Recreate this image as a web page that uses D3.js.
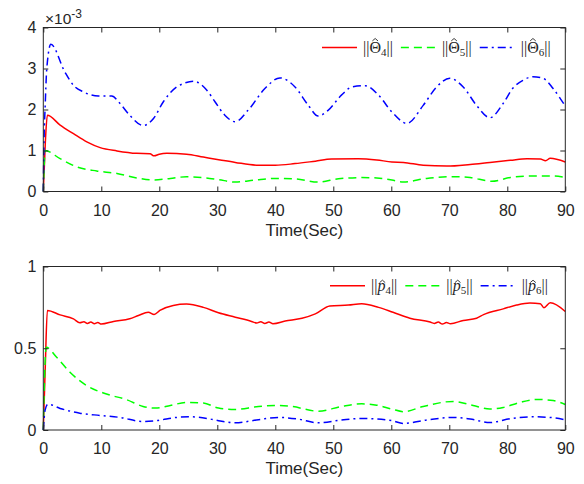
<!DOCTYPE html>
<html>
<head>
<meta charset="utf-8">
<script src="https://cdnjs.cloudflare.com/ajax/libs/d3/7.8.5/d3.min.js"></script>
<style>
    body { margin: 0; background: #fff; }
    svg { display: block; }
    .axis text { font-family: Arial, "Liberation Sans", sans-serif; font-size: 16px; fill: #262626; }
    .axis path, .axis line { stroke: #262626; }
    .xlabel { font-family: Arial, "Liberation Sans", sans-serif; font-size: 17px; fill: #262626; }
    .legend text { font-family: "Liberation Serif", "DejaVu Serif", serif; font-size: 16px; fill: #262626; }
</style>
</head>
<body>
<svg id="chart" width="584" height="484"></svg>
<script>
// [time, value] pairs; upper panel in units of 1e-3
var theta4 = [[0,0],[0.35,1.2],[0.7,1.86],[2.9,1.62],[5.2,1.41],[7.5,1.21],[9.8,1.07],[12.7,0.99],[16.1,0.93],
    [18.4,0.92],[19.1,0.87],[20,0.91],[21.3,0.93],[24.7,0.91],[27.6,0.84],[30.5,0.77],[33.1,0.71],[37.1,0.64],
    [40,0.64],[43.4,0.68],[46.9,0.74],[49.7,0.79],[54.3,0.80],[57.5,0.77],[60.1,0.72],[62.1,0.71],[65.5,0.64],
    [69.6,0.62],[73.6,0.66],[77,0.71],[80.5,0.76],[83.4,0.80],[85.7,0.79],[86.6,0.75],[87.4,0.81],[90,0.72]];
var theta5 = [[0,0],[0.15,0.6],[0.3,1.0],[2.9,0.80],[5.8,0.60],[9.2,0.50],[12.7,0.44],[16.1,0.33],[19,0.28],
    [21.9,0.32],[24.7,0.36],[27.6,0.34],[30.2,0.29],[33.1,0.23],[36.5,0.28],[40,0.32],[43.4,0.31],[47.4,0.23],
    [50.9,0.31],[54.9,0.34],[57.5,0.33],[60.1,0.28],[62.1,0.23],[66.1,0.32],[70.7,0.36],[73.6,0.34],[77.3,0.25],
    [80.5,0.34],[84.4,0.38],[87.9,0.38],[90,0.34]];
var theta6 = [[0,0],[0.15,1.4],[0.3,2.0],[0.6,3.0],[1.3,3.59],[3.7,2.92],[5.2,2.59],[6.9,2.43],[9.5,2.33],
    [11.8,2.33],[13.2,2.15],[14.9,1.86],[17.2,1.61],[19,1.78],[20.7,2.19],[23,2.55],[24.1,2.63],[25.9,2.69],
    [28.2,2.47],[29.6,2.19],[31.3,1.86],[33.1,1.70],[35.3,1.98],[38.2,2.51],[40.8,2.77],[43.4,2.55],[45.7,2.10],
    [47.4,1.84],[49.1,1.98],[51.4,2.35],[53.2,2.55],[55.5,2.58],[57.8,2.35],[60.1,1.94],[62.7,1.66],[65.5,2.10],
    [67.8,2.55],[70.1,2.76],[72.4,2.55],[74.7,2.10],[77,1.80],[79.3,2.15],[80.9,2.51],[82.7,2.71],[84.4,2.80],
    [86.2,2.76],[87.9,2.51],[90,2.08]];

var p4 = [[0,0],[0.35,0.4],[0.7,0.731],[2.9,0.704],[5.2,0.68],[6.3,0.656],[7,0.662],[7.6,0.652],[8.2,0.66],
    [8.8,0.65],[9.4,0.657],[10,0.648],[12.1,0.664],[14.9,0.68],[16.4,0.70],[18.1,0.72],[19.1,0.706],[20.1,0.731],
    [22.4,0.762],[24.7,0.77],[27.6,0.75],[30.2,0.717],[33.1,0.69],[35.9,0.664],[36.8,0.654],[37.5,0.662],
    [38.2,0.652],[38.9,0.66],[39.6,0.65],[41.7,0.666],[44.6,0.683],[46.9,0.71],[49.4,0.758],[52.6,0.764],
    [54.9,0.772],[57.8,0.75],[60.3,0.72],[63.2,0.684],[66.7,0.66],[67.4,0.652],[68.1,0.66],[68.8,0.648],
    [69.5,0.657],[70.2,0.65],[72.4,0.67],[74.7,0.684],[75.9,0.706],[79.3,0.741],[81.6,0.764],[83.9,0.776],
    [85.7,0.772],[86.3,0.748],[87.4,0.778],[90,0.725]];
var p5 = [[0,0],[0.2,0.3],[0.5,0.506],[2.3,0.445],[4.6,0.353],[7.5,0.271],[10.9,0.22],[14.4,0.185],[17.2,0.144],
    [19.3,0.134],[21.9,0.15],[24.7,0.169],[27.6,0.165],[30.2,0.134],[33,0.125],[37.1,0.144],[40,0.15],[42.8,0.144],
    [47.4,0.115],[51.4,0.144],[54.9,0.16],[57.5,0.152],[60.1,0.128],[62.1,0.112],[65.5,0.144],[70.7,0.175],
    [74.1,0.15],[77,0.128],[79.3,0.138],[82.2,0.169],[85.1,0.187],[87.9,0.18],[90,0.156]];
var p6 = [[0,0],[0.3,0.12],[0.8,0.158],[2.9,0.132],[6.3,0.103],[9.8,0.089],[13.2,0.077],[17.2,0.052],[19.6,0.058],
    [23,0.077],[25.3,0.081],[28.8,0.067],[30.5,0.055],[33.1,0.044],[37.1,0.063],[40.5,0.077],[43.9,0.067],
    [47.4,0.044],[51.4,0.061],[54.9,0.071],[60.1,0.057],[62.1,0.04],[66.1,0.061],[70.7,0.077],[73.6,0.067],
    [77,0.046],[80.5,0.069],[84.4,0.081],[87.9,0.075],[90,0.061]];

var xTicks = [0, 10, 20, 30, 40, 50, 60, 70, 80, 90];
var yTicksTop = [0, 1, 2, 3, 4];
var yTicksBottom = [0, 0.5, 1];
var legendSubs = ["4", "5", "6"];
var xLabel = "Time(Sec)";

var left = 43.3, right = 565.3;
var colors = ["#ff0000", "#00ff00", "#0000ff"];
var dashes = [null, "8,5", "8,4,2,4"];

var svg = d3.select("#chart");

var drawPanel = function(cfg) {
    var x = d3.scaleLinear().domain([0, 90]).range([left, right]);
    var y = d3.scaleLinear().domain(cfg.yDomain).range([cfg.bottom, cfg.top]);
    var g = svg.append("g");

    var line = d3.line()
        .x(function(d) { return x(d[0]); })
        .y(function(d) { return y(d[1]); })
        .curve(d3.curveMonotoneX);

    cfg.series.forEach(function(s, i) {
        g.append("path")
            .datum(s)
            .attr("d", line)
            .attr("fill", "none")
            .attr("stroke", colors[i])
            .attr("stroke-width", 1.5)
            .attr("stroke-dasharray", dashes[i]);
    });

    // axes, ticks pointing inward on all four sides
    g.append("g").attr("class", "axis")
        .attr("transform", "translate(0," + cfg.bottom + ")")
        .call(d3.axisBottom(x).tickValues(xTicks).tickSize(-5).tickPadding(13).tickSizeOuter(0));
    g.append("g").attr("class", "axis")
        .attr("transform", "translate(0," + cfg.top + ")")
        .call(d3.axisTop(x).tickValues(xTicks).tickSize(-5).tickFormat("").tickSizeOuter(0));
    g.append("g").attr("class", "axis")
        .attr("transform", "translate(" + left + ",0)")
        .call(d3.axisLeft(y).tickValues(cfg.yTicks).tickSize(-5).tickPadding(7).tickSizeOuter(0)
            .tickFormat(d3.format("")));
    g.append("g").attr("class", "axis")
        .attr("transform", "translate(" + right + ",0)")
        .call(d3.axisRight(y).tickValues(cfg.yTicks).tickSize(-5).tickFormat("").tickSizeOuter(0));
    g.selectAll(".axis .domain").remove();
    g.append("rect")
        .attr("x", left).attr("y", cfg.top)
        .attr("width", right - left).attr("height", cfg.bottom - cfg.top)
        .attr("fill", "none").attr("stroke", "#262626").attr("stroke-width", 1);

    g.append("text").attr("class", "xlabel")
        .attr("x", (left + right) / 2).attr("y", cfg.bottom + 44)
        .attr("text-anchor", "middle")
        .text(xLabel);

    // legend, no box
    var leg = g.append("g").attr("class", "legend");
    var items = legendSubs.map(function(sub, i) {
        var it = leg.append("g");
        it.append("line")
            .attr("x1", 0).attr("x2", 35).attr("y1", 0).attr("y2", 0)
            .attr("stroke", colors[i]).attr("stroke-width", 1.5)
            .attr("stroke-dasharray", dashes[i]);
        var t = it.append("text").attr("x", 41).attr("y", 5.5);
        t.append("tspan").text("||");
        t.append("tspan").attr("font-style", cfg.symItalic ? "italic" : "normal").text(cfg.sym);
        t.append("tspan").attr("font-size", "11px").attr("dy", 3).text(sub);
        t.append("tspan").attr("dy", -3).text("||");
        // hat accent over the symbol, drawn as a small stroke
        var ext = t.node().getExtentOfChar(2);
        var cx = ext.x + ext.width / 2 + (cfg.symItalic ? 1 : 0);
        var hy = 5.5 + cfg.hatY;
        it.append("path")
            .attr("d", "M" + (cx - 2.8) + "," + (hy + 2.4) + "L" + cx + "," + hy + "L" + (cx + 2.8) + "," + (hy + 2.4))
            .attr("fill", "none").attr("stroke", "#262626").attr("stroke-width", 0.9);
        return { g: it, w: 41 + t.node().getComputedTextLength() };
    });
    var xPos = cfg.legendLeft;
    items.forEach(function(it) {
        it.g.attr("transform", "translate(" + xPos + "," + cfg.legendY + ")");
        xPos += it.w + 8;
    });
};

drawPanel({
    top: 27.5, bottom: 191.5, yDomain: [0, 4], yTicks: yTicksTop,
    series: [theta4, theta5, theta6],
    sym: "\u0398", symItalic: false, hatY: -14.5,
    legendLeft: 322, legendY: 47.5
});

drawPanel({
    top: 266.5, bottom: 430, yDomain: [0, 1], yTicks: yTicksBottom,
    series: [p4, p5, p6],
    sym: "p", symItalic: true, hatY: -11,
    legendLeft: 330, legendY: 285.7
});

// exponent note for the upper panel
var ex = svg.append("text")
    .attr("x", 45).attr("y", 24)
    .attr("font-family", "Arial, 'Liberation Sans', sans-serif")
    .attr("font-size", "15.5px").attr("fill", "#262626");
ex.append("tspan").text("\u00d710");
ex.append("tspan").attr("font-size", "12px").attr("dy", -6).text("-3");
</script>
</body>
</html>
